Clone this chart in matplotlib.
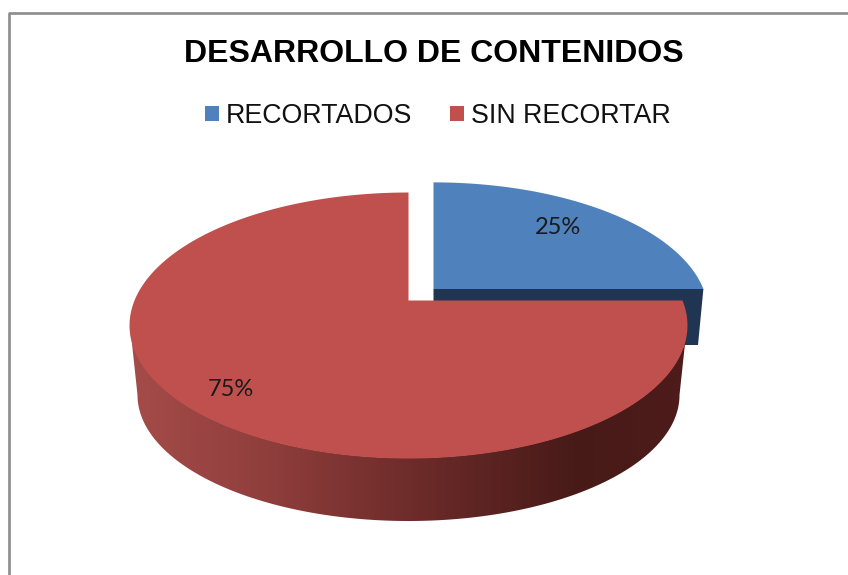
import numpy as np
import matplotlib as mpl
mpl.use('Agg')
import matplotlib.pyplot as plt
from matplotlib.colors import LinearSegmentedColormap
from matplotlib.lines import Line2D
from matplotlib.patches import Polygon
from matplotlib.path import Path
from matplotlib.transforms import Affine2D, Transform

title = 'DESARROLLO DE CONTENIDOS'
labels = ['RECORTADOS', 'SIN RECORTAR']
values = [25, 75]
colors = ['#4F81BD', '#C0504D']

# picture geometry in pixels, fitted on the reference
cx, cy = 408.5, 300.5
A, B, k = 274.0, 128.3, 0.188
depth = 56.0
shrink = 0.02


def project(u, v, z=0.0):
    w = 1 + k*v
    return cx + A*u*(1 - shrink*z)/w, cy - B*v/w + depth*z/w


class Perspective(Transform):
    input_dims = 2
    output_dims = 2
    is_separable = False

    def transform_non_affine(self, values):
        x, y = project(values[:, 0], values[:, 1])
        return np.column_stack((x, y))

    def transform_path_non_affine(self, path):
        # flatten the arcs first, bezier points do not survive a projection
        flat = path.transformed(Affine2D().scale(2000)).to_polygons(closed_only=False)[0]/2000
        return Path(self.transform_non_affine(flat))


fig = plt.figure(figsize=(8.48, 5.75), dpi=100)
ax = fig.add_axes([0, 0, 1, 1])

wedges, texts, autotexts = ax.pie(values, colors=colors, startangle=90, counterclock=False,
                                  autopct='%d%%', pctdistance=0.7)

persp = Perspective()
blue, red = wedges
blue.set_radius(0.985)
blue.set_transform(persp + Affine2D().translate(25, -11.5) + ax.transData)
red.set_transform(persp + ax.transData)
blue.set_zorder(4)
red.set_zorder(6)

# cut face of the pulled out slice
a = np.deg2rad(blue.theta1)
r = blue.r
x0, y0 = project(np.array([0, r*np.cos(a)]), np.array([0, r*np.sin(a)]))
x1, y1 = project(np.array([r*np.cos(a), 0]), np.array([r*np.sin(a), 0]), 1.0)
face = np.column_stack((np.r_[x0, x1], np.r_[y0, y1])) + [25, -11.5]
ax.add_patch(Polygon(face, closed=True, fc='#1F3552', ec='none', zorder=3))

# outer wall of the big slice, shaded left to right
t = np.deg2rad(np.linspace(180, 0, 300))
xt, yt = cx + 278.5*np.cos(t), 325 + 133*np.sin(t)
xb, yb = cx + 271*np.cos(t), 395 + 126*np.sin(t)
wall = Polygon(np.column_stack((np.r_[xt, xb[::-1]], np.r_[yt, yb[::-1]])), closed=True,
               fc='none', ec='none', transform=ax.transData)
ax.add_patch(wall)
shade = LinearSegmentedColormap.from_list('wall', [(0, '#A54C4A'), (0.25, '#8F3E3C'), (0.5, '#6E2C2A'),
                                                   (0.8, '#471A18'), (1, '#4E1C1A')])
im = ax.imshow(np.linspace(0, 1, 256).reshape(1, -1), cmap=shade, aspect='auto',
               extent=(128, 690, 530, 290), zorder=5)
im.set_clip_path(wall)

ax.set_aspect('auto')
ax.set_xlim(0, 848)
ax.set_ylim(575, 0)

pos = [(558, 227), (231, 390)]
for txt, p in zip(autotexts, pos):
    txt.set_transform(ax.transData)
    txt.set_position(p)
    txt.set_family('Lato')
    txt.set_fontsize(17)
    txt.set_color('#1a1a1a')
    txt.set_zorder(8)

ax.text(434, 53.5, title, family='Liberation Sans', fontweight='bold', fontsize=23,
        ha='center', va='center', color='black')

leg = ax.legend(wedges, labels, loc='center', bbox_to_anchor=(438, 116),
                bbox_transform=ax.transData, ncols=2, frameon=False,
                prop={'family': 'Liberation Sans', 'size': 19.3},
                handlelength=0.52, handleheight=0.52, handletextpad=0.26, columnspacing=1.42)
for t in leg.get_texts():
    t.set_color('#111111')

# chart frame, only top and left fall inside the crop
ax.add_line(Line2D([8.5, 8.5, 848], [575, 13, 13], color='#8C8C8C', lw=1.9))

plt.savefig('out.png', dpi=100)
plt.close()
